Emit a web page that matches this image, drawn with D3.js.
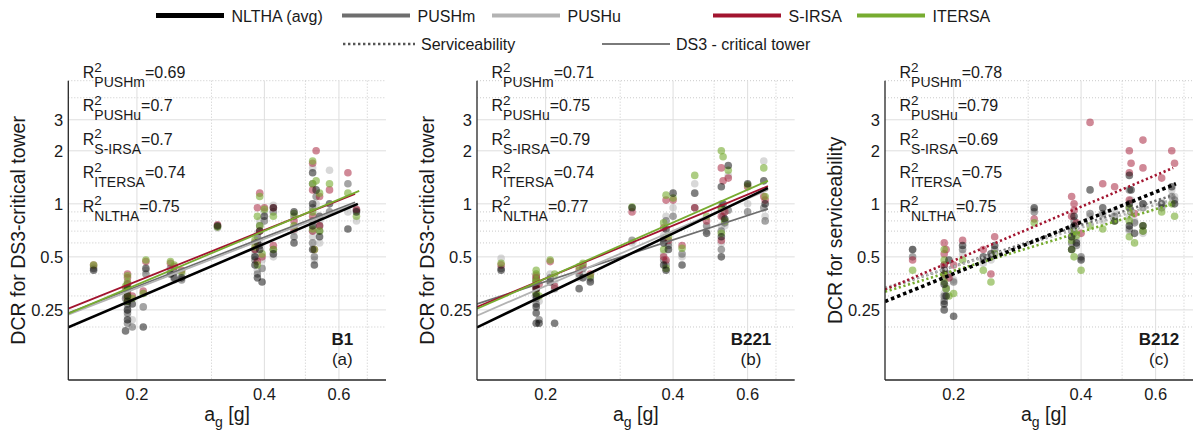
<!DOCTYPE html>
<html>
<head>
<meta charset="utf-8">
<script src="https://cdn.jsdelivr.net/npm/d3@7"></script>
<style>
  body { margin: 0; background: #fff; }
  svg text { font-family: "Liberation Sans", Arial, Helvetica, sans-serif; fill: #1a1a1a; }
</style>
</head>
<body>
<svg id="graph" width="1193" height="436"></svg>
<script>
// series order everywhere: NLTHA, PUSHm, PUSHu, S-IRSA, ITERSA
const seriesNames = ["NLTHA (avg)", "PUSHm", "PUSHu", "S-IRSA", "ITERSA"];
const xTicks = [0.2, 0.4, 0.6];
const xMinor = [0.3, 0.5, 0.7];
const yTicks = [0.25, 0.5, 1, 2, 3];
const yMinor = [0.2, 0.3, 0.4, 0.6, 0.7, 0.8, 0.9, 4, 5];

// ---- B1 ----
const agB1 = [0.158, 0.19, 0.19, 0.19, 0.19, 0.188, 0.19, 0.195, 0.207, 0.21, 0.24, 0.245, 0.255, 0.31,
  0.38, 0.38, 0.385, 0.385, 0.39, 0.39, 0.395, 0.40, 0.42, 0.42, 0.47, 0.47,
  0.52, 0.52, 0.52, 0.52, 0.525, 0.53, 0.54, 0.54, 0.57, 0.63, 0.66];
const nlthaB1 = [0.42, 0.30, 0.28, 0.25, 0.22, 0.19, 0.33, 0.27, 0.20, 0.43, 0.40, 0.38, 0.38, 0.75,
  0.50, 0.45, 0.60, 0.38, 0.70, 0.55, 0.36, 0.85, 0.95, 0.52, 0.90, 0.60,
  1.0, 1.5, 0.75, 0.55, 0.45, 1.2, 0.85, 0.65, 1.0, 0.72, 0.90];
const pushmB1 = [0.43, 0.32, 0.27, 0.24, 0.21, 0.29, 0.35, 0.20, 0.26, 0.40, 0.43, 0.41, 0.37, 0.74,
  0.55, 0.48, 0.65, 0.40, 0.75, 0.58, 0.43, 0.80, 0.90, 0.55, 0.85, 0.65,
  0.95, 1.3, 0.80, 0.60, 0.50, 1.1, 0.75, 0.70, 0.9, 1.3, 0.92];
const pushuB1 = [0.44, 0.28, 0.26, 0.23, 0.25, 0.30, 0.34, 0.22, 0.31, 0.42, 0.40, 0.37, 0.40, 0.73,
  0.52, 0.50, 0.68, 0.42, 0.80, 0.62, 0.48, 0.90, 0.98, 0.50, 0.75, 0.70,
  0.90, 1.6, 0.70, 0.65, 0.48, 1.0, 0.80, 0.60, 1.55, 0.90, 0.80];
const sirsaB1 = [0.45, 0.38, 0.35, 0.31, 0.29, 0.33, 0.40, 0.30, 0.32, 0.47, 0.46, 0.44, 0.42, 0.76,
  0.60, 0.55, 0.95, 0.47, 1.15, 0.70, 0.50, 0.95, 0.95, 0.58, 0.80, 0.72,
  1.2, 1.7, 0.85, 0.70, 0.55, 2.0, 1.1, 0.75, 1.2, 1.5, 0.93];
const itersaB1 = [0.45, 0.36, 0.33, 0.30, 0.28, 0.34, 0.39, 0.29, 0.31, 0.48, 0.47, 0.45, 0.41, 0.74,
  0.62, 0.57, 0.85, 0.45, 1.10, 0.75, 0.52, 0.93, 0.85, 0.55, 0.88, 0.75,
  1.3, 1.75, 0.90, 0.72, 0.55, 1.35, 1.15, 0.70, 1.3, 1.15, 0.85];
// fitted power-law lines [x0, y0, x1, y1]
const fitB1 = [[0.1377, 0.199, 0.665, 1.0], [0.1377, 0.24, 0.655, 1.02], [0.1377, 0.235, 0.655, 1.0],
  [0.1377, 0.254, 0.655, 1.14], [0.1377, 0.238, 0.67, 1.185]];
// R2 order: PUSHm, PUSHu, S-IRSA, ITERSA, NLTHA
const r2B1 = ["0.69", "0.7", "0.7", "0.74", "0.75"];

// ---- B221 ----
const agB221 = [0.157, 0.19, 0.19, 0.19, 0.19, 0.19, 0.193, 0.205, 0.21, 0.24, 0.245, 0.255, 0.32,
  0.38, 0.38, 0.385, 0.385, 0.39, 0.40, 0.42, 0.45, 0.48,
  0.52, 0.52, 0.52, 0.525, 0.53, 0.54, 0.60, 0.655, 0.66];
const nlthaB221 = [0.42, 0.21, 0.26, 0.30, 0.33, 0.24, 0.21, 0.36, 0.21, 0.33, 0.38, 0.36, 0.95,
  0.45, 0.60, 0.72, 0.42, 0.55, 1.15, 0.45, 1.15, 0.68,
  1.25, 0.65, 0.50, 1.0, 0.82, 1.65, 1.3, 1.35, 1.0];
const pushmB221 = [0.43, 0.29, 0.31, 0.34, 0.37, 0.27, 0.22, 0.38, 0.33, 0.40, 0.43, 0.38, 0.62,
  0.48, 0.63, 0.80, 0.45, 0.58, 0.85, 0.52, 0.95, 0.75,
  0.95, 0.70, 0.55, 0.85, 0.78, 0.92, 0.90, 0.95, 0.80];
const pushuB221 = [0.49, 0.33, 0.36, 0.38, 0.40, 0.31, 0.28, 0.40, 0.36, 0.38, 0.40, 0.37, 0.60,
  0.52, 0.66, 0.85, 0.47, 0.60, 0.95, 0.50, 1.3, 0.70,
  1.0, 0.75, 0.60, 0.90, 0.75, 1.45, 1.0, 1.75, 0.85];
const sirsaB221 = [0.45, 0.34, 0.38, 0.36, 0.39, 0.33, 0.35, 0.47, 0.34, 0.42, 0.45, 0.40, 0.90,
  0.50, 0.73, 1.05, 0.48, 0.62, 1.05, 0.58, 0.95, 0.80,
  1.6, 0.85, 0.62, 1.35, 0.90, 1.40, 1.25, 1.1, 1.05];
const itersaB221 = [0.46, 0.36, 0.40, 0.37, 0.42, 0.31, 0.30, 0.48, 0.40, 0.44, 0.46, 0.39, 0.96,
  0.55, 0.78, 1.12, 0.43, 0.65, 1.08, 0.56, 1.45, 0.85,
  2.0, 0.95, 0.68, 1.85, 0.80, 1.55, 1.28, 1.6, 1.1];
const fitB221 = [[0.1377, 0.199, 0.67, 1.23], [0.1377, 0.27, 0.67, 0.937], [0.1377, 0.232, 0.67, 1.2],
  [0.1377, 0.26, 0.67, 1.26], [0.1377, 0.254, 0.67, 1.35]];
const r2B221 = ["0.71", "0.75", "0.79", "0.74", "0.77"];

// ---- B212 (serviceability) ----
const agB212 = [0.16, 0.19, 0.19, 0.19, 0.19, 0.192, 0.195, 0.20, 0.21, 0.235, 0.245, 0.25, 0.31,
  0.38, 0.38, 0.385, 0.385, 0.39, 0.40, 0.42, 0.45, 0.48,
  0.52, 0.52, 0.52, 0.525, 0.535, 0.56, 0.56, 0.62, 0.655, 0.665];
const nlthaB212 = [0.55, 0.27, 0.25, 0.35, 0.42, 0.30, 0.48, 0.23, 0.58, 0.50, 0.52, 0.58, 0.95,
  0.55, 0.65, 0.75, 0.85, 0.60, 0.48, 1.2, 0.95, 0.80,
  1.45, 1.0, 0.75, 1.2, 0.68, 0.75, 1.0, 1.0, 1.25, 1.0];
const pushmB212 = [0.50, 0.30, 0.28, 0.38, 0.45, 0.33, 0.40, 0.36, 0.55, 0.48, 0.50, 0.55, 0.90,
  0.60, 0.70, 0.80, 0.68, 0.58, 0.50, 0.88, 0.88, 0.85,
  1.2, 0.95, 0.72, 0.90, 0.78, 0.70, 0.95, 0.95, 1.1, 1.05];
const pushuB212 = [0.55, 0.31, 0.29, 0.40, 0.43, 0.34, 0.38, 0.37, 0.52, 0.46, 0.48, 0.52, 0.93,
  0.65, 0.72, 0.70, 0.75, 0.62, 0.49, 0.85, 0.80, 0.90,
  1.0, 0.85, 0.70, 1.05, 0.80, 0.68, 1.0, 1.02, 1.2, 1.1];
const sirsaB212 = [0.48, 0.45, 0.40, 0.52, 0.60, 0.55, 0.38, 0.45, 0.62, 0.55, 0.40, 0.65, 0.82,
  0.85, 1.10, 1.00, 0.92, 0.78, 0.68, 2.9, 1.3, 1.25,
  2.0, 1.5, 1.05, 1.7, 0.88, 2.3, 1.6, 1.4, 2.0, 1.7];
const itersaB212 = [0.42, 0.40, 0.36, 0.48, 0.55, 0.33, 0.30, 0.31, 0.48, 0.42, 0.36, 0.52, 0.78,
  0.55, 0.62, 0.70, 0.50, 0.66, 0.42, 0.75, 0.72, 0.80,
  0.95, 0.80, 0.65, 0.90, 0.60, 0.75, 0.70, 0.90, 1.0, 0.85];
const fitB212 = [[0.1377, 0.279, 0.67, 1.3], [0.1377, 0.33, 0.66, 1.12], [0.1377, 0.334, 0.66, 1.06],
  [0.1377, 0.326, 0.66, 1.6], [0.1377, 0.317, 0.66, 1.0]];
const r2B212 = ["0.78", "0.79", "0.69", "0.75", "0.75"];

const r2Labels = ["PUSHm", "PUSHu", "S-IRSA", "ITERSA", "NLTHA"];

const lineColors = ["#000000", "#6e6e6e", "#b3b3b3", "#a2142f", "#77ac30"];
const dotColors = ["#000000", "#5a5a5a", "#a8a8a8", "#a2142f", "#77ac30"];
const dotOpacity = [0.5, 0.55, 0.45, 0.5, 0.6];

const svg = d3.select("#graph");
const panelTop = 80.7, panelBottom = 380, panelWidth = 317.7;
const lefts = [68.3, 477, 885];

const panels = [
  { id: "b1", ag: agB1, vals: [nlthaB1, pushmB1, pushuB1, sirsaB1, itersaB1], fit: fitB1, r2: r2B1,
    name: "B1", tag: "(a)", ylabel: "DCR for DS3-critical tower", dotted: false },
  { id: "b221", ag: agB221, vals: [nlthaB221, pushmB221, pushuB221, sirsaB221, itersaB221], fit: fitB221, r2: r2B221,
    name: "B221", tag: "(b)", ylabel: "DCR for DS3-critical tower", dotted: false },
  { id: "b212", ag: agB212, vals: [nlthaB212, pushmB212, pushuB212, sirsaB212, itersaB212], fit: fitB212, r2: r2B212,
    name: "B212", tag: "(c)", ylabel: "DCR for serviceability", dotted: true }
];

panels.forEach((p, pi) => {
  const L = lefts[pi];
  const x = d3.scaleLog().domain([0.1377, 0.775]).range([0, panelWidth]);
  const y = d3.scaleLog().domain([0.1, 5]).range([panelBottom - panelTop, 0]);
  const h = panelBottom - panelTop;

  const g = svg.append("g").attr("transform", `translate(${L},${panelTop})`);

  svg.append("clipPath").attr("id", "clip-" + p.id)
    .append("rect").attr("x", 0).attr("y", 0).attr("width", panelWidth).attr("height", h);

  // grid
  const grid = g.append("g");
  grid.selectAll(".gx").data(xMinor).enter().append("line")
    .attr("x1", d => x(d)).attr("x2", d => x(d)).attr("y1", 0).attr("y2", h)
    .attr("stroke", "#c4c4c4").attr("stroke-width", 0.9).attr("stroke-dasharray", "1,2");
  grid.selectAll(".gy").data(yMinor).enter().append("line")
    .attr("x1", 0).attr("x2", panelWidth).attr("y1", d => y(d)).attr("y2", d => y(d))
    .attr("stroke", "#c4c4c4").attr("stroke-width", 0.9).attr("stroke-dasharray", "1,2");
  grid.selectAll(".Gx").data(xTicks).enter().append("line")
    .attr("x1", d => x(d)).attr("x2", d => x(d)).attr("y1", 0).attr("y2", h)
    .attr("stroke", "#dedede").attr("stroke-width", 1);
  grid.selectAll(".Gy").data(yTicks).enter().append("line")
    .attr("x1", 0).attr("x2", panelWidth).attr("y1", d => y(d)).attr("y2", d => y(d))
    .attr("stroke", "#dedede").attr("stroke-width", 1);

  // points
  const pts = g.append("g").attr("clip-path", `url(#clip-${p.id})`);
  const drawOrder = [2, 1, 3, 4, 0];
  drawOrder.forEach(si => {
    pts.selectAll(".p" + si).data(p.ag.map((a, i) => [a, p.vals[si][i]])).enter().append("circle")
      .attr("cx", d => x(d[0])).attr("cy", d => y(d[1])).attr("r", 3.8)
      .attr("fill", dotColors[si]).attr("fill-opacity", dotOpacity[si]);
  });

  // fit lines
  const lineOrder = [1, 2, 3, 4, 0];
  const lines = g.append("g").attr("clip-path", `url(#clip-${p.id})`);
  lineOrder.forEach(si => {
    const f = p.fit[si];
    const ln = lines.append("line")
      .attr("x1", x(f[0])).attr("y1", y(f[1])).attr("x2", x(f[2])).attr("y2", y(f[3]))
      .attr("stroke", lineColors[si])
      .attr("stroke-width", si === 0 ? (p.dotted ? 3.6 : 2.6) : (p.dotted ? 2.6 : 1.8));
    if (p.dotted) ln.attr("stroke-dasharray", si === 0 ? "3.5,3" : "2.2,2.6");
  });

  // axes lines
  g.append("line").attr("x1", 0).attr("x2", 0).attr("y1", 0).attr("y2", h)
    .attr("stroke", "#262626").attr("stroke-width", 1.3);
  g.append("line").attr("x1", 0).attr("x2", panelWidth).attr("y1", h).attr("y2", h)
    .attr("stroke", "#262626").attr("stroke-width", 1.3);

  // tick labels
  g.selectAll(".xt").data(xTicks).enter().append("text")
    .attr("x", d => x(d)).attr("y", h + 20).attr("text-anchor", "middle")
    .style("font-size", "16.5px").text(d => d);
  g.selectAll(".yt").data(yTicks).enter().append("text")
    .attr("x", -5).attr("y", d => y(d)).attr("text-anchor", "end").attr("dy", "0.36em")
    .style("font-size", "16.5px").text(d => d);

  // axis labels
  const xl = g.append("text").attr("x", panelWidth / 2).attr("y", h + 41.5)
    .attr("text-anchor", "middle").style("font-size", "19.5px");
  xl.append("tspan").text("a");
  xl.append("tspan").attr("dy", 6).style("font-size", "14px").text("g");
  xl.append("tspan").attr("dy", -6).text(" [g]");

  g.append("text").attr("transform", `translate(-43,${h / 2}) rotate(-90)`)
    .attr("text-anchor", "middle").style("font-size", "19.5px").text(p.ylabel);

  // building label
  g.append("text").attr("x", 274).attr("y", 345.5 - panelTop).attr("text-anchor", "middle")
    .style("font-size", "17px").style("font-weight", "bold").text(p.name);
  g.append("text").attr("x", 274).attr("y", 365.5 - panelTop).attr("text-anchor", "middle")
    .style("font-size", "17px").text(p.tag);

  // R2 annotations
  p.r2.forEach((v, k) => {
    const base = 78 + k * 33.5 - panelTop;
    const R = g.append("text").attr("x", 14.5).attr("y", base).style("font-size", "16px").text("R");
    const rx = 14.5 + R.node().getComputedTextLength();
    g.append("text").attr("x", rx).attr("y", base - 6.5).style("font-size", "13.5px").text("2");
    const sub = g.append("text").attr("x", rx).attr("y", base + 9).style("font-size", "14px").text(r2Labels[k]);
    const ex = rx + sub.node().getComputedTextLength();
    g.append("text").attr("x", ex).attr("y", base).style("font-size", "16px").text("=" + v);
  });
});

// legend
const legend = svg.append("g");
const row1 = [{ x: 156, si: 0 }, { x: 342, si: 1 }, { x: 492, si: 2 }, { x: 713, si: 3 }, { x: 857, si: 4 }];
row1.forEach(item => {
  legend.append("line").attr("x1", item.x).attr("x2", item.x + 68).attr("y1", 15.5).attr("y2", 15.5)
    .attr("stroke", lineColors[item.si]).attr("stroke-width", item.si === 0 ? 5 : 4.2);
  legend.append("text").attr("x", item.x + 75.5).attr("y", 21.5).style("font-size", "16px")
    .text(seriesNames[item.si]);
});
legend.append("line").attr("x1", 343).attr("x2", 415).attr("y1", 44).attr("y2", 44)
  .attr("stroke", "#555555").attr("stroke-width", 2.4).attr("stroke-dasharray", "2.4,2.6");
legend.append("text").attr("x", 421).attr("y", 49.5).style("font-size", "16px").text("Serviceability");
legend.append("line").attr("x1", 602).attr("x2", 670).attr("y1", 44).attr("y2", 44)
  .attr("stroke", "#7a7a7a").attr("stroke-width", 2);
legend.append("text").attr("x", 676).attr("y", 49.5).style("font-size", "16px").text("DS3 - critical tower");
</script>
</body>
</html>
